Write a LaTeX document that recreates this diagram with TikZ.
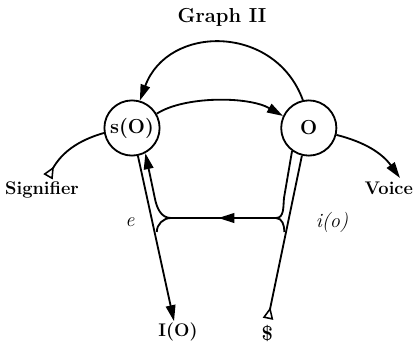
\documentclass[tikz,border=0pt]{standalone}
\usepackage{tikz}
\usetikzlibrary{arrows.meta,positioning,calc,decorations.markings}

\begin{document}
\begin{tikzpicture}[line width=1.3pt,>={Triangle[length=4mm,width=2.4mm]},
  place/.style={circle,draw,minimum size=1.38cm,inner sep=0pt,font=\Large\bfseries},
  tag/.style={font=\fontsize{13}{15}\selectfont\bfseries},
  tailtip/.style={{Triangle[open,reversed,length=3mm,width=2.6mm,line width=1.1pt]}-},
  midleft/.style={decoration={markings,mark=at position 0.55 with {\arrow{>}}},postaction={decorate}}]
\useasboundingbox (0,0) rectangle (10.325,-8.65);
% title
\node[font=\Large\bfseries] (title) at (5.55,-0.43) {Graph II};
% the two places
\node[place] (sO) at (3.3,-3.2) {s(O)};
\node[place] (O) at (7.72,-3.2) {O};
\draw[->] (O.102) .. controls (6.88,-0.6) and (4.2,-0.6) .. (sO.74);
\draw[->] (sO.30) .. controls (4.6,-2.4) and (6.2,-2.4) .. (O.155);
% signifier and voice
\coordinate (sigtail) at (1.2,-4.42);
\coordinate (voicetip) at (10.0,-4.45);
\node[tag] (sig) at (1.05,-4.74) {Signifier};
\node[tag] (voice) at (9.72,-4.72) {Voice};
\draw[tailtip] (sigtail) to[bend left=22] (sO.190);
\draw[->] (O.-14) to[bend left=20] (voicetip);
% lower circuit
\coordinate (Lj) at (4.275,-5.45);
\coordinate (Rj) at (6.9,-5.45);
\coordinate (Lup) at (3.87,-4.95);
\coordinate (Rup) at (7.1,-4.95);
\coordinate (Ljoin) at (3.92,-5.8);
\coordinate (Rjoin) at (7.11,-5.8);
\coordinate (Itip) at (4.35,-8.03);
\coordinate (Stail) at (6.7,-7.97);
\draw[->] (sO.-78) -- (Itip);
\draw[tailtip] (Stail) -- (O.-104);
\draw[->] (Lj) to[out=180,in=-79] (Lup) -- (sO.-62);
\draw (O.-126) -- (Rup) to[out=-96,in=0] (Rj);
\draw[midleft] (Rj) -- (Lj);
\draw (Lj) to[out=180,in=90] (Ljoin);
\draw (Rj) to[out=0,in=90] (Rjoin);
% labels
\node[font=\Large\itshape] (e) at (3.25,-5.55) {e};
\node[font=\Large\itshape] (io) at (8.3,-5.55) {i(o)};
\node[tag] (IO) at (4.45,-8.3) {I(O)};
\node[font=\Large\bfseries] (S) at (6.68,-8.33) {\$};
\end{tikzpicture}
\end{document}
